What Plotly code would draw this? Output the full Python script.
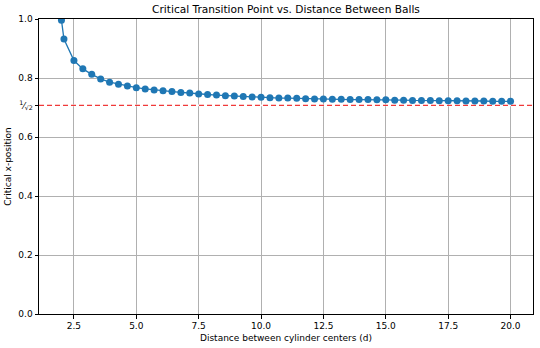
import math
import plotly.graph_objects as go

# Distance between cylinder centres (d)
distance = [2.0, 2.1, 2.5, 2.857, 3.214, 3.571, 3.929, 4.286, 4.643, 5.0,
            5.357, 5.714, 6.071, 6.429, 6.786, 7.143, 7.5, 7.857, 8.214, 8.571,
            8.929, 9.286, 9.643, 10.0, 10.357, 10.714, 11.071, 11.429, 11.786, 12.143,
            12.5, 12.857, 13.214, 13.571, 13.929, 14.286, 14.643, 15.0, 15.357, 15.714,
            16.071, 16.429, 16.786, 17.143, 17.5, 17.857, 18.214, 18.571, 18.929, 19.286,
            19.643, 20.0]

# Critical x-position of the transition for each distance
critical_x = [0.996, 0.932, 0.859, 0.831, 0.8125, 0.797, 0.786, 0.779, 0.773, 0.767,
              0.763, 0.759, 0.757, 0.754, 0.751, 0.749, 0.746, 0.744, 0.742, 0.740,
              0.739, 0.737, 0.736, 0.735, 0.733, 0.732, 0.732, 0.731, 0.730, 0.729,
              0.729, 0.728, 0.728, 0.727, 0.727, 0.727, 0.726, 0.726, 0.725, 0.725,
              0.724, 0.724, 0.724, 0.723, 0.723, 0.723, 0.722, 0.722, 0.722, 0.721,
              0.721, 0.721]

asymptote = 1 / math.sqrt(2)

x_ticks = [2.5, 5.0, 7.5, 10.0, 12.5, 15.0, 17.5, 20.0]
x_tick_labels = ["2.5", "5.0", "7.5", "10.0", "12.5", "15.0", "17.5", "20.0"]
y_ticks = [0.0, 0.2, 0.4, 0.6, asymptote, 0.8, 1.0]
y_tick_labels = ["0.0", "0.2", "0.4", "0.6", "<sup>1</sup>⁄<sub>√2</sub>", "0.8", "1.0"]

font = "DejaVu Sans"

fig = go.Figure()
# white backing so the 1/sqrt(2) grid line does not show between the dashes
fig.add_trace(go.Scatter(
    x=[1.1, 20.9], y=[asymptote, asymptote], mode="lines",
    line=dict(color="#ffffff", width=1.6),
    showlegend=False, hoverinfo="skip",
))
fig.add_trace(go.Scatter(
    x=[1.1, 20.9], y=[asymptote, asymptote], mode="lines",
    line=dict(color="#f03a3a", width=1.3, dash="5px,3px"),
    showlegend=False, hoverinfo="skip",
))
fig.add_trace(go.Scatter(
    x=distance, y=critical_x, mode="lines+markers",
    line=dict(color="#1f77b4", width=1.3),
    marker=dict(color="#1f77b4", size=7),
    cliponaxis=True, showlegend=False,
))

axis_common = dict(
    showline=True, linecolor="#000000", linewidth=1, mirror=True,
    showgrid=True, gridcolor="#b0b0b0", gridwidth=0.8,
    ticks="outside", ticklen=3.5, tickcolor="#000000", tickwidth=0.8,
    zeroline=False, tickfont=dict(family=font, size=9, color="#000000"),
)

fig.update_layout(
    width=540, height=348,
    margin=dict(l=39, r=7, t=19, b=34),
    paper_bgcolor="white", plot_bgcolor="white",
    title=dict(text="Critical Transition Point vs. Distance Between Balls",
               xref="paper", x=0.5, xanchor="center",
               yref="container", y=0.985, yanchor="top",
               font=dict(family=font, size=10.6, color="#000000")),
    xaxis=dict(range=[1.1, 20.9], tickvals=x_ticks, ticktext=x_tick_labels,
               title=dict(text="Distance between cylinder centers (d)", standoff=4,
                          font=dict(family=font, size=9, color="#000000")),
               **axis_common),
    yaxis=dict(range=[0, 1], tickvals=y_ticks, ticktext=y_tick_labels,
               title=dict(text="Critical x-position", standoff=5,
                          font=dict(family=font, size=9, color="#000000")),
               **axis_common),
)

fig.write_html("out.html")
